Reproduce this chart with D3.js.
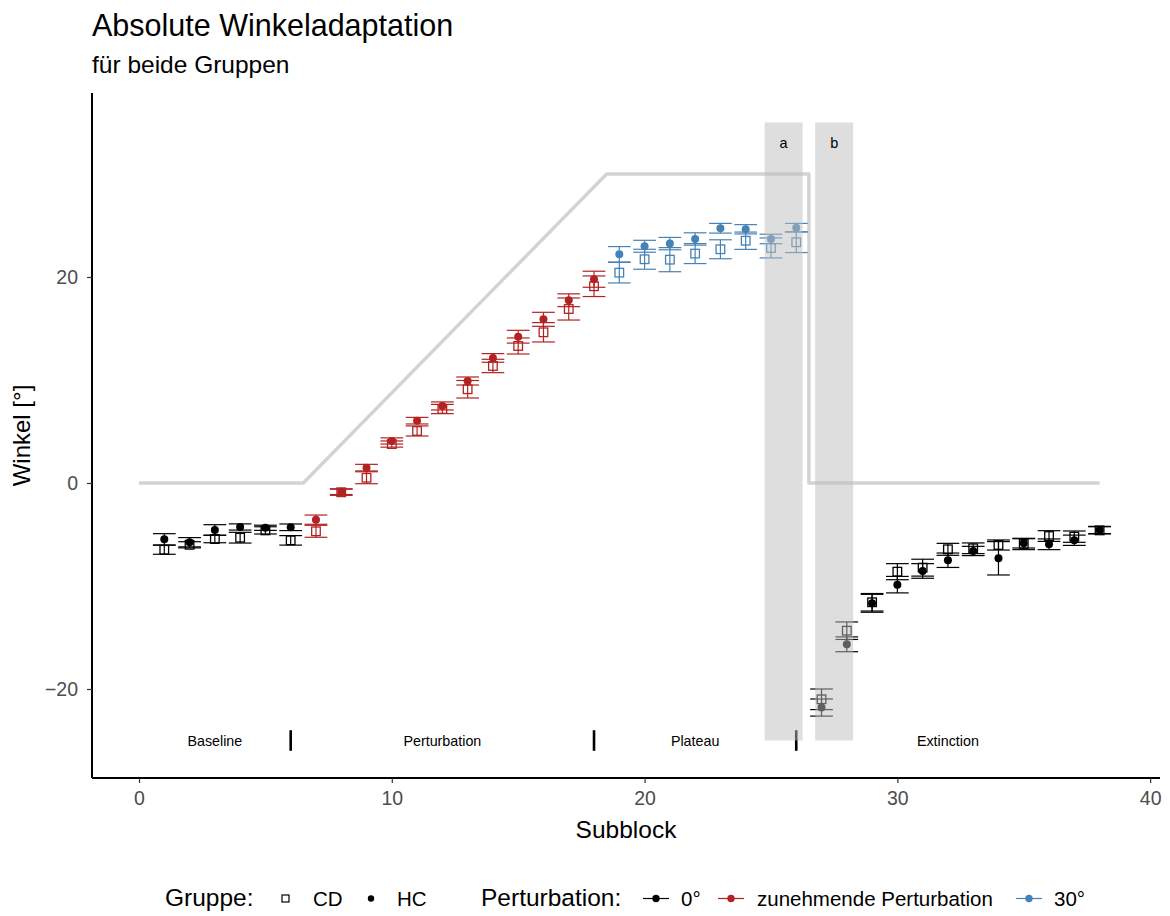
<!DOCTYPE html>
<html>
<head>
<meta charset="utf-8">
<script src="https://cdn.jsdelivr.net/npm/d3@7"></script>
<style>
  html, body { margin: 0; padding: 0; background: #fff; }
  svg { display: block; font-family: "Liberation Sans", Arial, sans-serif; }
</style>
</head>
<body>
<svg id="chart" width="1170" height="916"></svg>
<script>
// Subblocks and the perturbation condition of each
const subblocks = [1,2,3,4,5,6,7,8,9,10,11,12,13,14,15,16,17,18,19,20,21,22,23,24,25,26,27,28,29,30,31,32,33,34,35,36,37,38];
const condition = [
  "0°","0°","0°","0°","0°","0°",
  "zunehmende Perturbation","zunehmende Perturbation","zunehmende Perturbation","zunehmende Perturbation",
  "zunehmende Perturbation","zunehmende Perturbation","zunehmende Perturbation","zunehmende Perturbation",
  "zunehmende Perturbation","zunehmende Perturbation","zunehmende Perturbation","zunehmende Perturbation",
  "30°","30°","30°","30°","30°","30°","30°","30°",
  "0°","0°","0°","0°","0°","0°","0°","0°","0°","0°","0°","0°"
];

// Group means and standard errors (degrees)
const hcMean = [-5.47,-5.75,-4.56,-4.27,-4.35,-4.30,-3.56,-0.84,1.49,4.08,6.05,7.48,9.90,12.14,14.20,15.89,17.74,19.78,22.20,22.98,23.24,23.69,24.73,24.63,23.69,24.79,-21.80,-15.66,-11.68,-9.87,-8.54,-7.50,-6.60,-7.31,-5.86,-5.95,-5.56,-4.56];
const hcSE   = [0.55,0.45,0.51,0.30,0.25,0.32,0.45,0.28,0.32,0.30,0.32,0.39,0.39,0.42,0.62,0.68,0.62,0.78,0.75,0.58,0.60,0.60,0.47,0.45,0.46,0.41,0.83,0.72,0.87,0.80,0.71,0.70,0.45,1.62,0.45,0.52,0.50,0.35];
const cdMean = [-6.48,-6.00,-5.44,-5.31,-4.60,-5.57,-4.69,-0.90,0.51,3.78,5.05,7.18,9.10,11.36,13.30,14.63,16.89,19.10,20.42,21.72,21.68,22.27,22.69,23.52,22.82,23.37,-21.00,-14.34,-11.58,-8.61,-8.22,-6.44,-6.34,-6.02,-5.92,-5.15,-5.21,-4.60];
const cdSE   = [0.44,0.30,0.36,0.52,0.35,0.46,0.58,0.30,0.58,0.30,0.49,0.45,0.85,0.65,0.78,0.94,1.07,1.00,1.00,0.97,1.17,0.97,0.92,0.84,0.97,1.00,1.00,0.85,0.85,0.78,0.82,0.58,0.52,0.49,0.55,0.52,0.55,0.35];

// Rotation schedule (grey reference line)
const scheduleX = [0, 6.5, 18.5, 26.5, 26.5, 38];
const scheduleY = [0, 0, 30, 30, 0, 0];

// Highlighted subblock windows
const windowLabels = ["a", "b"];
const windowStart = [24.75, 26.75];
const windowEnd = [26.25, 28.25];
const windowBottom = -25, windowTop = 35, windowLabelY = 33;

// Phase annotations
const phaseNames = ["Baseline", "Perturbation", "Plateau", "Extinction"];
const phaseCenters = [3, 12, 22, 32];
const phaseBounds = [6, 18, 26];
const phaseLabelY = -25;

// Axis ticks
const xTicks = [0, 10, 20, 30, 40];
const yTicks = [-20, 0, 20];

const conditions = ["0°", "zunehmende Perturbation", "30°"];
const conditionColors = ["#000000", "#B22222", "#4682B4"];
const groups = ["CD", "HC"];

const svg = d3.select("#chart");
const panel = { left: 92, right: 1160, top: 93, bottom: 778 };

const x = d3.scaleLinear().domain([-1.86, 40.39]).range([panel.left, panel.right]);
const y = d3.scaleLinear().domain([-28.64, 37.86]).range([panel.bottom, panel.top]);
const color = d3.scaleOrdinal().domain(conditions).range(conditionColors);

// Titles
svg.append("text").attr("x", 92).attr("y", 36)
  .attr("font-size", 30.5).attr("fill", "#000").text("Absolute Winkeladaptation");
svg.append("text").attr("x", 92).attr("y", 73)
  .attr("font-size", 24.5).attr("fill", "#000").text("für beide Gruppen");

// Reference schedule line
const schedule = scheduleX.map((v, i) => [v, scheduleY[i]]);
svg.append("path")
  .datum(schedule)
  .attr("d", d3.line().x(d => x(d[0])).y(d => y(d[1])))
  .attr("fill", "none").attr("stroke", "#d3d3d3").attr("stroke-width", 3.4)
  .attr("stroke-linejoin", "round");

// Phase dividers and labels
svg.append("g").selectAll("line").data(phaseBounds).join("line")
  .attr("x1", d => x(d)).attr("x2", d => x(d))
  .attr("y1", y(-24)).attr("y2", y(-26))
  .attr("stroke", "#000").attr("stroke-width", 2.6);
svg.append("g").selectAll("text").data(phaseNames).join("text")
  .attr("x", (d, i) => x(phaseCenters[i])).attr("y", y(phaseLabelY) + 5)
  .attr("text-anchor", "middle").attr("font-size", 14.3).attr("fill", "#000")
  .text(d => d);

// Rows for both groups
const rows = [];
subblocks.forEach((s, i) => {
  rows.push({ s, group: "CD", mean: cdMean[i], se: cdSE[i], cond: condition[i] });
  rows.push({ s, group: "HC", mean: hcMean[i], se: hcSE[i], cond: condition[i] });
});

// Error bars
const capHalf = 0.45;
const eb = svg.append("g").selectAll("g").data(rows).join("g")
  .attr("stroke", d => color(d.cond)).attr("stroke-width", 1.2).attr("fill", "none");
eb.append("line")
  .attr("x1", d => x(d.s)).attr("x2", d => x(d.s))
  .attr("y1", d => y(d.mean - d.se)).attr("y2", d => y(d.mean + d.se));
eb.append("line")
  .attr("x1", d => x(d.s - capHalf)).attr("x2", d => x(d.s + capHalf))
  .attr("y1", d => y(d.mean + d.se)).attr("y2", d => y(d.mean + d.se));
eb.append("line")
  .attr("x1", d => x(d.s - capHalf)).attr("x2", d => x(d.s + capHalf))
  .attr("y1", d => y(d.mean - d.se)).attr("y2", d => y(d.mean - d.se));

// Points: CD open squares, HC filled circles
const sq = 8.6;
svg.append("g").selectAll("rect").data(rows.filter(d => d.group === "CD")).join("rect")
  .attr("x", d => x(d.s) - sq / 2).attr("y", d => y(d.mean) - sq / 2)
  .attr("width", sq).attr("height", sq)
  .attr("fill", "none").attr("stroke", d => color(d.cond)).attr("stroke-width", 1.3);
svg.append("g").selectAll("circle").data(rows.filter(d => d.group === "HC")).join("circle")
  .attr("cx", d => x(d.s)).attr("cy", d => y(d.mean)).attr("r", 4)
  .attr("fill", d => color(d.cond));

// Shaded windows (drawn over the data)
const win = svg.append("g").selectAll("g").data(windowLabels).join("g");
win.append("rect")
  .attr("x", (d, i) => x(windowStart[i]))
  .attr("width", (d, i) => x(windowEnd[i]) - x(windowStart[i]))
  .attr("y", y(windowTop)).attr("height", y(windowBottom) - y(windowTop))
  .attr("fill", "#bdbdbd").attr("fill-opacity", 0.5);
win.append("text")
  .attr("x", (d, i) => x((windowStart[i] + windowEnd[i]) / 2))
  .attr("y", y(windowLabelY) + 5)
  .attr("text-anchor", "middle").attr("font-size", 14.5).attr("fill", "#000")
  .text(d => d);

// Axes
const xAxis = svg.append("g").attr("transform", `translate(0,${panel.bottom})`)
  .call(d3.axisBottom(x).tickValues(xTicks).tickSize(5).tickPadding(8).tickFormat(d3.format("d")));
const yAxis = svg.append("g").attr("transform", `translate(${panel.left},0)`)
  .call(d3.axisLeft(y).tickValues(yTicks).tickSize(5).tickPadding(9)
    .tickFormat(d => d < 0 ? "\u2212" + Math.abs(d) : String(d)));
[xAxis, yAxis].forEach(a => {
  a.select(".domain").attr("stroke", "#000").attr("stroke-width", 2);
  a.selectAll(".tick line").attr("stroke", "#333").attr("stroke-width", 1.2);
  a.selectAll(".tick text").attr("fill", "#4d4d4d").attr("font-size", 19.5)
    .attr("font-family", "Liberation Sans, Arial, sans-serif");
});
xAxis.select(".domain").attr("d", `M${panel.left},0H${panel.right}`);
yAxis.select(".domain").attr("d", `M0,${panel.top}V${panel.bottom}`);

// Axis titles
svg.append("text").attr("x", (panel.left + panel.right) / 2).attr("y", 838)
  .attr("text-anchor", "middle").attr("font-size", 24.5).attr("fill", "#000").text("Subblock");
svg.append("text").attr("transform", `translate(30,${(panel.top + panel.bottom) / 2}) rotate(-90)`)
  .attr("text-anchor", "middle").attr("font-size", 24).attr("fill", "#000").text("Winkel [°]");

// Legend
const leg = svg.append("g").attr("transform", "translate(0,906)");
leg.append("text").attr("x", 165).attr("y", 0).attr("font-size", 24.5).text("Gruppe:");
leg.append("rect").attr("x", 282).attr("y", -11).attr("width", 7).attr("height", 7)
  .attr("fill", "none").attr("stroke", "#000").attr("stroke-width", 1.2);
leg.append("text").attr("x", 313).attr("y", 0).attr("font-size", 20.5).text(groups[0]);
leg.append("circle").attr("cx", 371).attr("cy", -7.5).attr("r", 3.2).attr("fill", "#000");
leg.append("text").attr("x", 397).attr("y", 0).attr("font-size", 20.5).text(groups[1]);

leg.append("text").attr("x", 481).attr("y", 0).attr("font-size", 24.5).text("Perturbation:");
const keyX = [643, 718, 1016];
const labX = [681, 757, 1054];
conditions.forEach((c, i) => {
  leg.append("line").attr("x1", keyX[i]).attr("x2", keyX[i] + 26)
    .attr("y1", -7.5).attr("y2", -7.5).attr("stroke", color(c)).attr("stroke-width", 1.2);
  leg.append("circle").attr("cx", keyX[i] + 13).attr("cy", -7.5).attr("r", 3.7).attr("fill", color(c));
  leg.append("text").attr("x", labX[i]).attr("y", 0).attr("font-size", 20.5).text(c);
});
</script>
</body>
</html>
